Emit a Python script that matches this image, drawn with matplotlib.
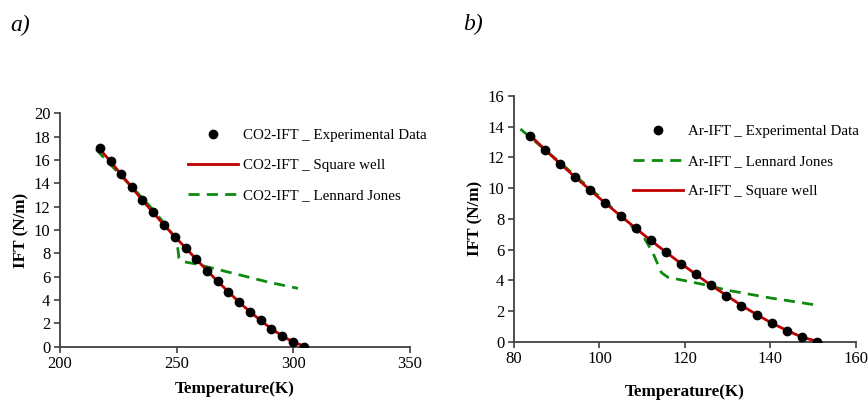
import matplotlib
matplotlib.use("Agg")
import matplotlib.pyplot as plt

plt.rcParams['font.family'] = ['Liberation Serif', 'DejaVu Serif']
plt.rcParams['mathtext.fontset'] = 'stix'

# CO2 interfacial tension vs temperature
co2_T = [217.0, 221.7, 226.2, 230.8, 235.2, 239.8, 244.4, 249.2, 253.9, 258.4,
         263.0, 267.5, 272.1, 276.7, 281.4, 286.0, 290.5, 295.2, 299.7, 304.4]
co2_exp = [17.06, 15.89, 14.77, 13.66, 12.57, 11.54, 10.46, 9.43, 8.46, 7.49,
           6.51, 5.60, 4.71, 3.80, 2.94, 2.29, 1.54, 0.91, 0.37, 0.0]
co2_sw_T = [216.5, 221.7, 226.2, 230.8, 235.2, 239.8, 244.4, 249.2, 253.9, 258.4,
            263.0, 267.5, 272.1, 276.7, 281.4, 286.0, 290.5, 295.2, 299.7, 304.0]
co2_sw = [17.05, 15.87, 14.76, 13.65, 12.58, 11.52, 10.47, 9.44, 8.45, 7.49,
          6.53, 5.61, 4.72, 3.83, 3.00, 2.25, 1.55, 0.93, 0.42, 0.10]
co2_lj_T = [215.5, 225.0, 235.0, 240.0, 245.0, 249.0, 250.3, 251.0, 252.5,
            258.0, 270.0, 280.0, 290.0, 302.0]
co2_lj = [16.9, 14.9, 12.8, 11.7, 10.5, 9.4, 8.7, 7.6, 7.3,
          7.1, 6.5, 6.0, 5.5, 5.0]

# Argon interfacial tension vs temperature
ar_T = [83.75, 87.26, 90.77, 94.36, 97.88, 101.39, 104.98, 108.49, 112.0, 115.6,
        119.1, 122.6, 126.1, 129.7, 133.2, 136.8, 140.3, 143.9, 147.4, 151.0]
ar_exp = [13.40, 12.48, 11.59, 10.70, 9.86, 9.01, 8.19, 7.38, 6.60, 5.82,
          5.08, 4.39, 3.67, 3.00, 2.34, 1.76, 1.19, 0.72, 0.28, 0.0]
ar_sw = [13.45, 12.50, 11.60, 10.71, 9.86, 9.02, 8.19, 7.39, 6.60, 5.83,
         5.09, 4.38, 3.68, 3.02, 2.37, 1.77, 1.22, 0.73, 0.30, 0.02]
ar_lj_T = [81.5, 90.0, 100.0, 105.0, 108.0, 110.5, 112.5, 114.5, 116.0,
           124.0, 130.0, 140.0, 150.5]
ar_lj = [13.85, 11.85, 9.45, 8.2, 7.4, 6.75, 5.8, 4.5, 4.2,
         3.75, 3.35, 2.85, 2.4]

RED = '#C00000'
GREEN = '#0E8A0E'
AXC = '#404040'

fig = plt.figure(figsize=(8.68, 4.04), dpi=100)


def style_axes(ax, xpad):
    for s in ['top', 'right']:
        ax.spines[s].set_visible(False)
    for s in ['left', 'bottom']:
        ax.spines[s].set_color(AXC)
        ax.spines[s].set_linewidth(1.3)
    ax.tick_params(direction='out', length=4, width=1.2, color=AXC,
                   labelsize=12, pad=3)
    ax.set_xlabel('Temperature(K)', fontsize=12.3, fontweight='bold',
                  labelpad=xpad)
    ax.set_ylabel('IFT (N/m)', fontsize=12.3, fontweight='bold', labelpad=3)


# a) CO2
ax1 = fig.add_axes([60 / 868, 1 - 346.7 / 404, 350 / 868, 233.4 / 404])
ax1.plot(co2_lj_T, co2_lj, color=GREEN, lw=2.0, ls=(0, (4, 2.6)), zorder=2,
         label='CO2-IFT _ Lennard Jones')
ax1.plot(co2_sw_T, co2_sw, color=RED, lw=2.0, zorder=3,
         label='CO2-IFT _ Square well')
ax1.plot(co2_T, co2_exp, 'o', color='black', ms=6, ls='none', zorder=4,
         label='CO2-IFT _ Experimental Data')
ax1.set_xlim(200, 350)
ax1.set_ylim(0, 20)
ax1.set_xticks([200, 250, 300, 350])
ax1.set_yticks(range(0, 21, 2))
style_axes(ax1, 6)
h, l = ax1.get_legend_handles_labels()
ax1.legend([h[2], h[1], h[0]], [l[2], l[1], l[0]], frameon=False,
           loc='center left', bbox_to_anchor=(188 / 868, 1 - 165.7 / 404),
           bbox_transform=fig.transFigure, borderaxespad=0, borderpad=0,
           handlelength=3.3, handletextpad=0.35, labelspacing=1.1,
           fontsize=10.8)
fig.text(10 / 868, 1 - 25 / 404, 'a)', fontsize=17, style='italic',
         va='center', ha='left')

# b) Argon
ax2 = fig.add_axes([514 / 868, 1 - 341.7 / 404, 341.7 / 868, 245.7 / 404])
ax2.plot(ar_lj_T, ar_lj, color=GREEN, lw=2.0, ls=(0, (4, 2.6)), zorder=2,
         label='Ar-IFT _ Lennard Jones')
ax2.plot(ar_T, ar_sw, color=RED, lw=2.0, zorder=3,
         label='Ar-IFT _ Square well')
ax2.plot(ar_T, ar_exp, 'o', color='black', ms=6, ls='none', zorder=4,
         label='Ar-IFT _ Experimental Data')
ax2.set_xlim(80, 160)
ax2.set_ylim(0, 16)
ax2.set_xticks(range(80, 161, 20))
ax2.set_yticks(range(0, 17, 2))
style_axes(ax2, 12)
h, l = ax2.get_legend_handles_labels()
ax2.legend([h[2], h[0], h[1]], [l[2], l[0], l[1]], frameon=False,
           loc='center left', bbox_to_anchor=(633 / 868, 1 - 161 / 404),
           bbox_transform=fig.transFigure, borderaxespad=0, borderpad=0,
           handlelength=3.3, handletextpad=0.35, labelspacing=1.1,
           fontsize=10.8)
fig.text(463 / 868, 1 - 24 / 404, 'b)', fontsize=17, style='italic',
         va='center', ha='left')

fig.savefig('out.png', dpi=100)
